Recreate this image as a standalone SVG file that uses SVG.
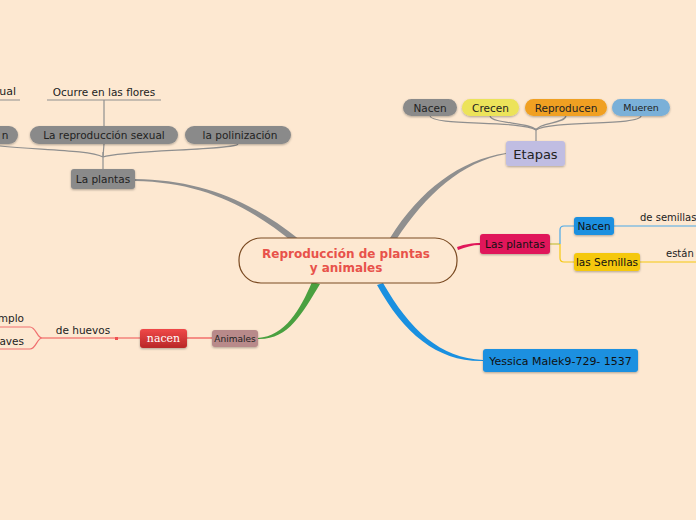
<svg xmlns="http://www.w3.org/2000/svg" width="696" height="520" viewBox="0 0 696 520">
<defs>
<filter id="sh" x="-10%" y="-20%" width="120%" height="150%"><feDropShadow dx="0" dy="1" stdDeviation="0.8" flood-color="#000" flood-opacity="0.3"/></filter>
<linearGradient id="red" x1="0" y1="0" x2="0" y2="1"><stop offset="0" stop-color="#f04848"/><stop offset="1" stop-color="#b82828"/></linearGradient>
</defs>
<style>
text{font-family:"DejaVu Sans","Noto Sans",sans-serif;fill:#222;}
.t11{font-size:10.5px;}
.lbl{font-size:10.5px;text-anchor:middle;}
.gl{fill:none;stroke:#8f8f8f;stroke-width:1.2;}
.node{filter:url(#sh);}
</style>
<rect width="696" height="520" fill="#fde8d1"/>
<g id="connectors">
<path d="M135,179 C200,180 250,200 300,240 L294,243 C248,205 200,182 135,181 Z" fill="#8f8f8f"/>
<path d="M390,238 C420,190 460,160 506,153 L506,154 C462,162 426,194 396,240 Z" fill="#8f8f8f"/>
<path d="M457,247 C466,244 472,243 480,243 L480,245 C472,245 466,247 458,250 Z" fill="#e0185a"/>
<path d="M383,283 C410,330 440,358 483,360 L483,361 C438,362 404,334 377,285 Z" fill="#1a90e0"/>
<path d="M312,282 C300,310 285,336 258,338 L258,339 C288,340 302,314 320,284 Z" fill="#4aa040"/>
<path class="gl" d="M536,141 L536,128"/>
<path class="gl" d="M430,116 C432,126 520,120 536,130"/>
<path class="gl" d="M490,116 C492,124 530,122 536,130"/>
<path class="gl" d="M566,116 C564,124 540,122 536,130"/>
<path class="gl" d="M641,116 C640,126 550,120 536,130"/>
<path class="gl" d="M103,169 L103,152"/>
<path class="gl" d="M104,144 L103,157"/>
<path class="gl" d="M238,144 C236,150 120,150 103,157"/>
<path class="gl" d="M0,146 C40,150 90,150 103,157"/>
<path class="gl" d="M104,126 L104,100"/>
<path d="M47,100 H161" stroke="#8f8f8f" stroke-width="1"/>
<path d="M0,100 H20" stroke="#8f8f8f" stroke-width="1"/>
<path d="M550,244 H560" stroke="#c8c040" stroke-width="1.2" fill="none"/>
<path d="M574,226 H564 Q560,226 560,230 V244" stroke="#4aa8e8" stroke-width="1.2" fill="none"/>
<path d="M574,262 H564 Q560,262 560,258 V244" stroke="#f5c810" stroke-width="1.2" fill="none"/>
<path d="M614,226 H696" stroke="#4aa8e8" stroke-width="1.2" fill="none"/>
<path d="M640,262 H696" stroke="#f5c810" stroke-width="1.2" fill="none"/>
<path d="M212,338 H187" stroke="#f05050" stroke-width="1.2" fill="none"/>
<path d="M140,338 H42" stroke="#f05050" stroke-width="1.2" fill="none"/>
<rect x="115" y="337" width="3" height="3" fill="#f05050"/>
<path d="M42,338 C37,338 36,327 30,327 H0" stroke="#f07070" stroke-width="1.2" fill="none"/>
<path d="M42,338 C37,338 36,349 30,349 H0" stroke="#f07070" stroke-width="1.2" fill="none"/>
</g>
<g id="central">
<rect x="239" y="238" width="218" height="45" rx="22" fill="#fde8d1" stroke="#7a4a22" stroke-width="1.2"/>
<text x="346" y="258" style="font-size:12px;font-weight:bold;fill:#e8524a;text-anchor:middle">Reproducción de plantas</text>
<text x="346" y="272" style="font-size:12px;font-weight:bold;fill:#e8524a;text-anchor:middle">y animales</text>
</g>
<g id="etapas"><rect class="node" x="506" y="141" width="59" height="25" rx="3" fill="#c0bde2"/><text x="535.5" y="159" style="font-size:13px;text-anchor:middle">Etapas</text></g>
<g id="nacen1"><rect class="node" x="403" y="99" width="54" height="17" rx="8.5" fill="#8a8a8a"/><text x="430" y="111.5" class="lbl">Nacen</text></g>
<g id="crecen"><rect class="node" x="462" y="99" width="57" height="17" rx="8.5" fill="#ece35a"/><text x="490.5" y="111.5" class="lbl">Crecen</text></g>
<g id="reproducen"><rect class="node" x="525" y="99" width="82" height="17" rx="8.5" fill="#f0a020"/><text x="566" y="111.5" class="lbl">Reproducen</text></g>
<g id="mueren"><rect class="node" x="612" y="99" width="58" height="17" rx="8.5" fill="#7ab0d8"/><text x="641" y="111" style="font-size:9.5px;text-anchor:middle">Mueren</text></g>
<g id="laplantas"><rect class="node" x="71" y="169" width="64" height="20" rx="3" fill="#8a8a8a"/><text x="103" y="183" class="lbl">La plantas</text></g>
<g id="pill-n"><rect class="node" x="-30" y="126" width="48" height="18" rx="9" fill="#8a8a8a"/><text x="5" y="139" class="t11" style="text-anchor:middle">n</text></g>
<g id="reprosexual"><rect class="node" x="30" y="126" width="148" height="18" rx="9" fill="#8a8a8a"/><text x="104" y="139" class="lbl">La reproducción sexual</text></g>
<g id="polinizacion"><rect class="node" x="185" y="126" width="106" height="18" rx="9" fill="#8a8a8a"/><text x="240" y="139" class="lbl">la polinización</text></g>
<g id="ocurre"><text x="104" y="96" class="lbl">Ocurre en las flores</text></g>
<g id="ual"><text x="16" y="95" class="t11" style="text-anchor:end;font-size:11px">ual</text></g>
<g id="lasplantas"><rect class="node" x="480" y="234" width="70" height="20" rx="3" fill="#e0185a"/><text x="515" y="248" class="lbl" style="fill:#111">Las plantas</text></g>
<g id="nacen2"><rect class="node" x="574" y="217" width="40" height="18" rx="3" fill="#1a90e0"/><text x="594" y="230" class="lbl" style="fill:#111">Nacen</text></g>
<g id="semillas"><rect class="node" x="574" y="253" width="66" height="18" rx="3" fill="#f5c810"/><text x="607" y="266" class="lbl" style="fill:#111">las Semillas</text></g>
<g id="desemillas"><text x="640" y="221" class="t11" style="font-size:10px">de semillas</text></g>
<g id="estan"><text x="666" y="257" class="t11" style="font-size:10px">están</text></g>
<g id="yessica"><rect class="node" x="483" y="349" width="155" height="23" rx="3" fill="#1a90e0"/><text x="560.5" y="364.5" class="lbl" style="fill:#111;font-size:11px">Yessica Malek9-729- 1537</text></g>
<g id="animales"><rect class="node" x="212" y="330" width="46" height="17" rx="3" fill="#b88a8a"/><text x="235" y="342" style="font-size:9px;text-anchor:middle">Animales</text></g>
<g id="nacen3"><rect class="node" x="140" y="329" width="47" height="19" rx="3" fill="url(#red)"/><text x="163.5" y="342" style="font-family:'DejaVu Serif','Liberation Serif',serif;font-size:11px;fill:#fff;text-anchor:middle">nacen</text></g>
<g id="dehuevos"><text x="83" y="334" class="lbl">de huevos</text></g>
<g id="mplo"><text x="24" y="322" class="t11" style="text-anchor:end">mplo</text></g>
<g id="aves"><text x="24" y="345" class="t11" style="text-anchor:end">aves</text></g>
</svg>
